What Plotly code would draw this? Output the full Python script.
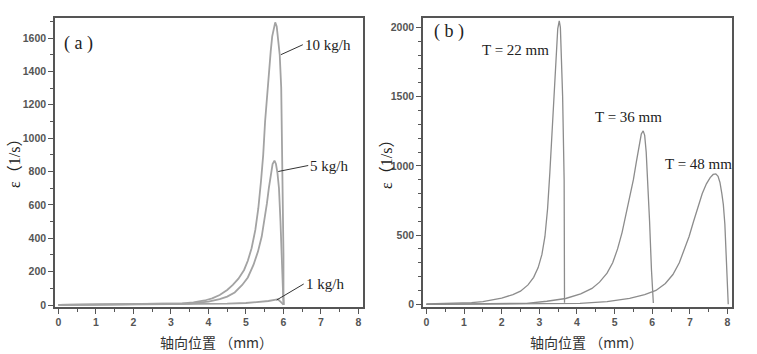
import plotly.graph_objects as go

# ---------- data: panel (a) ----------
a10_x = [0, 0.5, 1, 1.5, 2, 2.5, 3.0, 3.3, 3.6, 3.9, 4.1, 4.3, 4.5, 4.65, 4.8, 4.95, 5.05, 5.15, 5.25, 5.33,
         5.4, 5.46, 5.51, 5.56, 5.61, 5.66, 5.7, 5.74, 5.78, 5.82, 5.86, 5.9, 5.94, 5.97, 6.0, 6.0, 6.01]
a10_y = [1, 2, 3, 4, 5, 5, 6, 9, 16, 27, 40, 60, 90, 120, 158, 210, 265, 340, 450, 580,
         740, 900, 1100, 1260, 1400, 1520, 1610, 1665, 1694, 1670, 1590, 1500, 1300, 900, 300, 60, 0]

a5_x = [0, 1, 2, 3, 3.5, 4.0, 4.3, 4.5, 4.7, 4.9, 5.05, 5.2, 5.32, 5.42, 5.5, 5.56, 5.61, 5.66, 5.71, 5.76,
        5.8, 5.84, 5.88, 5.92, 5.96, 5.99, 6.0]
a5_y = [1, 2, 3, 6, 9, 20, 35, 50, 75, 120, 165, 240, 320, 410, 510, 610, 700, 790, 845, 865,
        845, 790, 700, 500, 220, 30, 5]

a1_x = [0, 1, 2, 3, 4, 4.5, 5, 5.4, 5.6, 5.8, 5.85, 5.92, 6.0]
a1_y = [0, 1, 2, 3, 5, 8, 12, 18, 24, 32, 34, 20, 2]

# ---------- data: panel (b) ----------
b22_x = [0, 0.7, 1.2, 1.5, 2.0, 2.3, 2.5, 2.7, 2.85, 2.97, 3.07, 3.15, 3.22, 3.28, 3.33, 3.39, 3.44, 3.49,
         3.53, 3.56, 3.62, 3.66, 3.67]
b22_y = [2, 5, 12, 20, 45, 70, 95, 140, 195, 265, 360, 490, 690, 950, 1200, 1500, 1780, 1990,
         2048, 2000, 1500, 900, 12]

b36_x = [0, 1, 2, 2.66, 3.2, 3.7, 4.1, 4.4, 4.6, 4.8, 4.95, 5.08, 5.2, 5.3, 5.4, 5.5, 5.58, 5.65, 5.71,
         5.76, 5.8, 5.84, 5.88, 5.93, 5.98, 6.03]
b36_y = [0, 2, 4, 7, 22, 42, 75, 115, 160, 225, 300, 400, 520, 640, 770, 900, 1030, 1150, 1230,
         1253, 1220, 1100, 900, 600, 250, 10]

b48_x = [0, 1, 2, 3, 4.08, 4.8, 5.4, 5.8, 6.1, 6.35, 6.55, 6.72, 6.85, 6.98, 7.1, 7.22, 7.33, 7.44, 7.54,
         7.62, 7.69, 7.75, 7.8, 7.85, 7.89, 7.93, 7.97, 8.0, 8.02]
b48_y = [0, 1, 3, 5, 7, 20, 43, 70, 100, 150, 215, 300, 390, 490, 600, 710, 800, 870, 915,
         938, 942, 925, 880, 800, 720, 580, 350, 120, 0]

a_labels = ["10 kg/h", "5 kg/h", "1 kg/h"]
b_labels = ["T = 22 mm", "T = 36 mm", "T = 48 mm"]
panel_letters = ["( a )", "( b )"]
x_title = "轴向位置 （mm）"
y_title = "ε（1/s）"

W, H = 757, 354
AX = "#555555"
LINE_A = "#a3a3a3"
LINE_B = "#8c8c8c"

fig = go.Figure()
for xs, ys in [(a10_x, a10_y), (a5_x, a5_y), (a1_x, a1_y)]:
    fig.add_trace(go.Scatter(x=xs, y=ys, mode="lines", line=dict(color=LINE_A, width=1.8),
                             xaxis="x", yaxis="y", showlegend=False, hoverinfo="skip"))
for xs, ys in [(b22_x, b22_y), (b36_x, b36_y), (b48_x, b48_y)]:
    fig.add_trace(go.Scatter(x=xs, y=ys, mode="lines", line=dict(color=LINE_B, width=1.3),
                             xaxis="x2", yaxis="y2", showlegend=False, hoverinfo="skip"))

tickfont = dict(family="Liberation Sans", size=10.5, color=AX, weight="bold")

def xax(dom, anchor):
    return dict(domain=dom, anchor=anchor, range=[-0.09, 8.12], tickmode="linear", tick0=0, dtick=1,
                ticks="outside", ticklen=5, tickwidth=1.2, tickcolor=AX,
                minor=dict(ticks="outside", ticklen=3, tickwidth=1, tickcolor=AX, dtick=0.5, tick0=0),
                showline=True, linecolor=AX, linewidth=1.5, mirror=True, showgrid=False, zeroline=False,
                tickfont=tickfont, automargin=False)

def yax(dom, anchor, rng, dt):
    return dict(domain=dom, anchor=anchor, range=rng, tickmode="linear", tick0=0, dtick=dt,
                ticks="outside", ticklen=5, tickwidth=1.2, tickcolor=AX,
                minor=dict(ticks="outside", ticklen=3, tickwidth=1, tickcolor=AX, dtick=100, tick0=0),
                showline=True, linecolor=AX, linewidth=1.5, mirror=True, showgrid=False, zeroline=False,
                tickfont=tickfont, automargin=False)

ydom = [1 - 307 / H, 1 - 18 / H]
fig.update_layout(
    width=W, height=H, margin=dict(l=0, r=0, t=0, b=0),
    paper_bgcolor="white", plot_bgcolor="white",
    xaxis=xax([55 / W, 363 / W], "y"),
    yaxis=yax(ydom, "x", [-12, 1720], 200),
    xaxis2=xax([423 / W, 732 / W], "y2"),
    yaxis2=yax(ydom, "x2", [-19.5, 2068], 500),
)

SERIF = "Liberation Serif, Noto Sans CJK SC"
CJK = "Noto Sans CJK SC"
serif = dict(family=SERIF, size=15, color="#222222")
ann = []
for txt, hx, hy, ax_, ay_ in [(a_labels[0], 5.93, 1500, 22, -10),
                              (a_labels[1], 5.86, 800, 30, -6),
                              (a_labels[2], 5.82, 30, 27, -16)]:
    ann.append(dict(x=hx, y=hy, xref="x", yref="y", text=txt, showarrow=True, arrowhead=0,
                    arrowwidth=1, arrowcolor="#333333", ax=ax_, ay=ay_, xanchor="left",
                    font=serif, standoff=0))
for txt, tx, ty in [(b_labels[0], 1.42, 1839), (b_labels[1], 4.42, 1354), (b_labels[2], 6.29, 1014)]:
    ann.append(dict(x=tx, y=ty, xref="x2", yref="y2", text=txt, showarrow=False, xanchor="left",
                    yanchor="middle", font=serif))

ann.append(dict(x=0.1, y=1570, xref="x", yref="y", text=panel_letters[0], showarrow=False,
                xanchor="left", yanchor="middle", font=dict(family=SERIF, size=18, color="#222")))
ann.append(dict(x=0.15, y=1969, xref="x2", yref="y2", text=panel_letters[1], showarrow=False,
                xanchor="left", yanchor="middle", font=dict(family=SERIF, size=18, color="#222")))
tfont = dict(family=CJK, size=14, color="#333333")
for cx in [217, 586]:
    ann.append(dict(x=cx / W, y=1 - 342 / H, xref="paper", yref="paper", text=x_title, showarrow=False,
                    xanchor="center", yanchor="middle", font=tfont))
for cx in [14, 386]:
    ann.append(dict(x=cx / W, y=1 - 160 / H, xref="paper", yref="paper", text=y_title, showarrow=False,
                    xanchor="center", yanchor="middle", textangle=-90,
                    font=dict(family=SERIF, size=16, color="#222222")))
fig.update_layout(annotations=ann)

fig.write_html("out.html")
